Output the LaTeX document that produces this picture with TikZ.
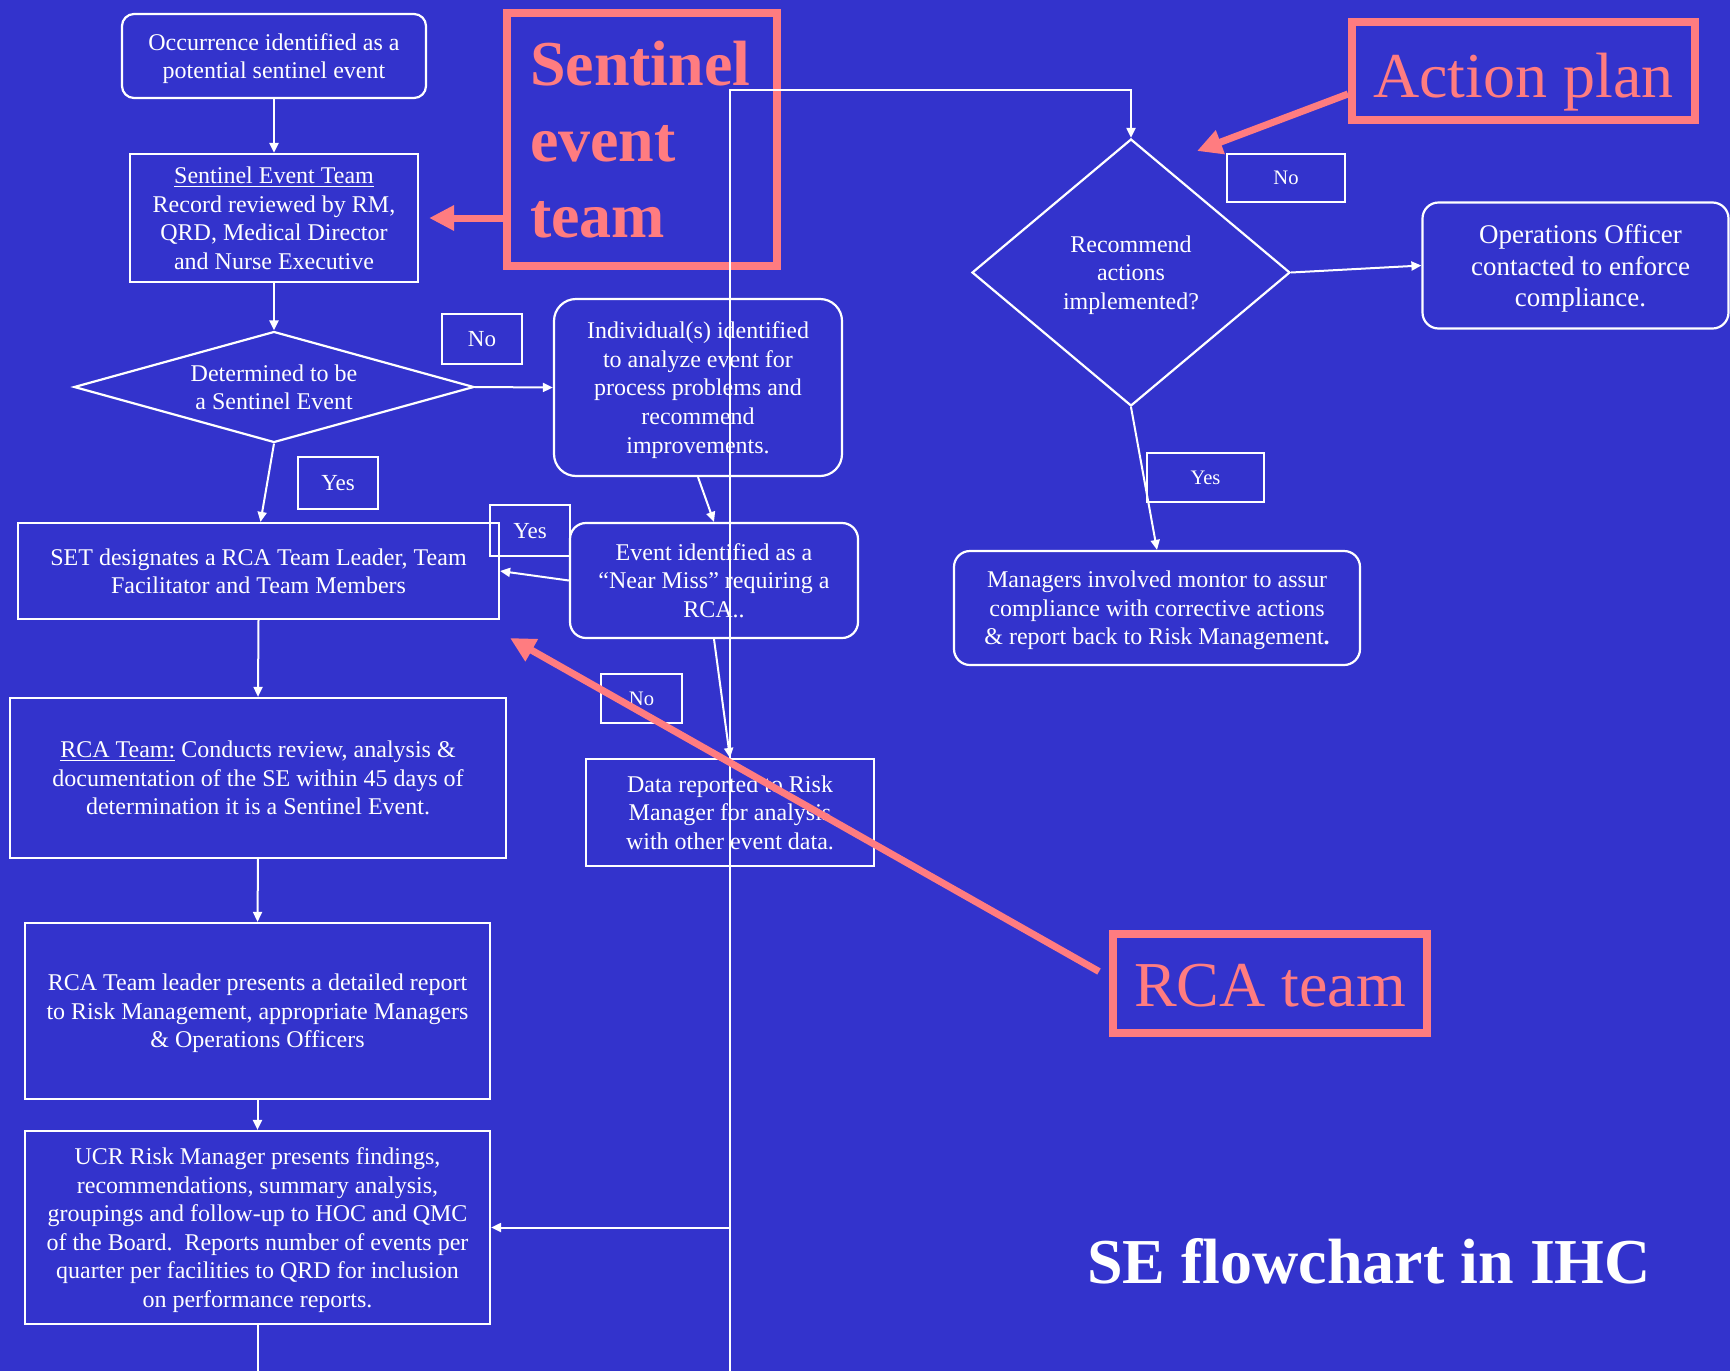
\documentclass[tikz,border=0pt]{standalone}
\usepackage{fontspec}
\setmainfont{Liberation Serif}
\usetikzlibrary{arrows.meta,shapes.geometric}
\definecolor{bgblue}{RGB}{51,51,204}
\definecolor{salmon}{RGB}{255,124,128}
\newcommand\bodyfont{\fontsize{12}{14.3}\selectfont}
\newcommand\opsfont{\fontsize{13.5}{15.6}\selectfont}
\newcommand\labfont{\fontsize{11.5}{13}\selectfont}
\newcommand\labsmall{\fontsize{10.3}{12}\selectfont}
\newcommand\annfont{\fontsize{32}{38}\selectfont}
\newcommand\opsin{\hspace*{5pt}}
\tikzset{
  sz/.style 2 args={minimum width={#1*0.5pt}, minimum height={#2*0.5pt}},
  wline/.style={draw=white, line width=1pt},
  warrow/.style={wline, -{Triangle[length=5pt,width=4.5pt]}},
  % white text block; fixed depth keeps the lines at the same height in every box
  btxt/.style={text=white, align=center, font=\bodyfont, text depth=-1.2pt},
  box/.style={btxt, draw=white, line width=1.1pt, inner sep=0pt},
  rbox/.style={box, rounded corners=6pt},
  dia/.style={draw=white, line width=1.1pt, shape=diamond, inner sep=0pt},
  lab/.style={draw=white, line width=1pt, text=white, inner sep=0pt,
    font=\labfont, text depth=-2pt},
  labs/.style={lab, font=\labsmall},
  salbox/.style={draw=salmon, line width=4pt, text=salmon, inner sep=0pt},
  salarrow/.style={draw=salmon, line width=3.5pt,
    -{Triangle[length=12.5pt,width=12pt]}},
}
\begin{document}
\begin{tikzpicture}[x=0.5pt,y=-0.5pt]
\fill[bgblue] (0,0) rectangle (1730,1371);
\useasboundingbox (0,0) rectangle (1730,1371);

% annotation frames
\node[salbox, sz={270}{253}, text width=112pt, align=left,
  font=\bfseries\annfont] (sebox) at (642,139.5) {Sentinel\\event\\team};
\node[salbox, sz={343}{98}, font=\annfont, text height=33pt, text depth=7pt]
  (ap) at (1523.5,71) {Action plan};
\node[salbox, sz={314}{99}, font=\annfont, text height=26pt, text depth=3.5pt]
  (rcat) at (1270,983.5) {RCA team};

% left column
\node[rbox, sz={304}{84}] (occ) at (274,56)
  {Occurrence identified as a\\potential sentinel event};
\node[box, sz={288}{128}] (setteam) at (274,218)
  {\underline{Sentinel Event Team}\\Record reviewed by RM,\\QRD, Medical Director\\and Nurse Executive};
\node[dia, sz={400}{111},
  label={[btxt]center:{Determined to be\\a Sentinel Event}}]
  (d1) at (274,387) {};
\node[box, sz={481}{96}] (setbox) at (258.5,571)
  {SET designates a RCA Team Leader, Team\\Facilitator and Team Members};
\node[box, sz={496}{160}] (rca) at (258,778)
  {\underline{RCA Team:} Conducts review, analysis \&\\documentation of the SE within 45 days of\\determination it is a Sentinel Event.};
\node[box, sz={465}{176}] (leader) at (257.5,1011)
  {RCA Team leader presents a detailed report\\to Risk Management, appropriate Managers\\\& Operations Officers};
\node[box, sz={465}{193}] (ucr) at (257.5,1227.5)
  {UCR Risk Manager presents findings,\\recommendations, summary analysis,\\groupings and follow-up to HOC and QMC\\of the Board.\ \ Reports number of events per\\quarter per facilities to QRD for inclusion\\on performance reports.};

% middle column
\node[rbox, rounded corners=11pt, sz={288}{177}] (indiv) at (698,387.5)
  {Individual(s) identified\\to analyze event for\\process problems and\\recommend\\improvements.};
\node[rbox, rounded corners=8pt, sz={288}{115}] (near) at (714,580.5)
  {Event identified as a\\“Near Miss” requiring a\\RCA..};
\node[box, sz={288}{107}] (data) at (730,812.5)
  {Data reported to Risk\\Manager for analysis\\with other event data.};

% right column
\node[dia, sz={318}{267},
  label={[btxt]center:{Recommend\\actions\\implemented?}}]
  (d2) at (1131,272.5) {};
\node[rbox, rounded corners=8pt, sz={306}{126}, font=\opsfont] (ops) at (1575.5,265.5)
  {\opsin Operations Officer\\\opsin contacted to enforce\\\opsin compliance.};
\node[rbox, rounded corners=8pt, sz={406}{114}] (mgr) at (1157,608)
  {Managers involved montor to assur\\compliance with corrective actions\\\& report back to Risk Management\textbf{.}};

% branch labels
\node[lab, sz={80}{50}] (no1) at (482,339) {No};
\node[lab, sz={80}{52}] (yes1) at (338,483) {Yes};
\node[lab, sz={80}{51}] (yes2) at (530,530.5) {Yes};
\node[labs, sz={81}{49}] (no3) at (641.5,698.5) {No};
\node[labs, sz={118}{48}] (no2) at (1286,178) {No};
\node[labs, sz={117}{49}] (yes3) at (1205.5,477.5) {Yes};

% connectors
\draw[warrow] (occ.south) -- (setteam.north);
\draw[warrow] (setteam.south) -- (d1.north);
\draw[warrow] (d1.east) -- (indiv.west);
\draw[warrow] (d1.south) -- ([xshift=1pt]setbox.north);
\draw[warrow] (indiv.south) -- (near.north);
\draw[warrow] (near.west) -- (setbox.east);
\draw[warrow] (near.south) -- (data.north);
\draw[warrow] (setbox.south) -- (rca.north);
\draw[warrow] (rca.south) -- (leader.north);
\draw[warrow] (leader.south) -- (ucr.north);
\draw[wline] (ucr.south) -- ++(0,47);
\coordinate (top) at (730,90);
\coordinate (bot) at (730,1371);
\draw[warrow] (bot) -- (top) -| (d2.north);
\draw[warrow] (ucr.east -| top) -- (ucr.east);
\draw[warrow] (d2.east) -- (ops.west);
\draw[warrow] (d2.south) -- (mgr.north);

% annotation pointers
\coordinate (aptip) at (1197,151);
\coordinate (rcatip) at (510,638);
\draw[salarrow] (sebox.west |- setteam.east) -- ([xshift=5pt]setteam.east);
\draw[salarrow] ([yshift=-11.5pt]ap.west) -- (aptip);
\draw[salarrow] ([xshift=-5pt,yshift=6pt]rcat.west) -- (rcatip);

% title
\node[anchor=base west, text=white, font=\bfseries\annfont, inner sep=0pt]
  (title) at (1087,1283) {SE flowchart in IHC};
\end{tikzpicture}
\end{document}
